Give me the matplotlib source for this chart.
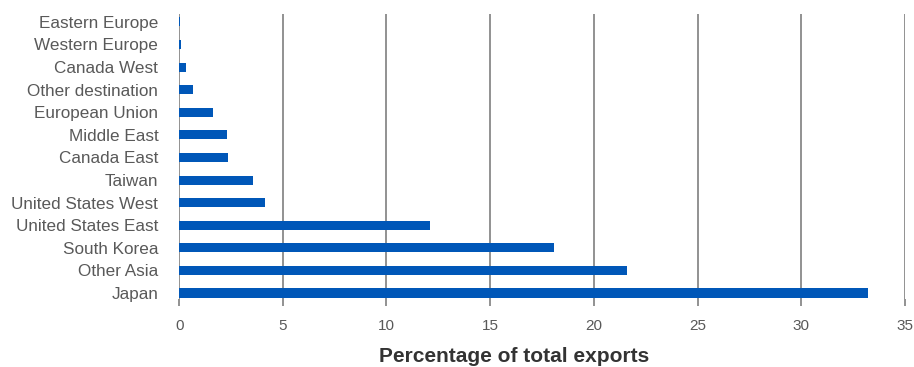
import matplotlib.pyplot as plt

plt.rcParams['font.family'] = ['Liberation Sans', 'DejaVu Sans']

destinations = ['Japan', 'Other Asia', 'South Korea', 'United States East',
                'United States West', 'Taiwan', 'Canada East', 'Middle East',
                'European Union', 'Other destination', 'Canada West',
                'Western Europe', 'Eastern Europe']
shares = [33.2, 21.6, 18.1, 12.1, 4.15, 3.57, 2.37, 2.33, 1.65, 0.68, 0.35, 0.07, 0.03]
xticks = [0, 5, 10, 15, 20, 25, 30, 35]

fig = plt.figure(figsize=(9.14, 3.67), dpi=100)
ax = fig.add_axes([0.196, 0.185, 0.794, 0.777])

ax.barh(range(len(destinations)), shares, height=0.4, color='#0057b8', zorder=3)

ax.set_xlim(0, 35)
ax.set_ylim(-0.27, 12.35)
ax.set_xticks(xticks)
ax.set_yticks(range(len(destinations)))
ax.set_yticklabels(destinations)

for s in ax.spines.values():
    s.set_visible(False)
ax.grid(axis='x', color='#7f7f7f', linewidth=1.2, zorder=1)
ax.tick_params(axis='y', length=0, pad=15, labelsize=12.3, labelcolor='#595959')
ax.tick_params(axis='x', length=5, width=1.2, color='#7f7f7f', pad=9,
               labelsize=11, labelcolor='#595959')

fig.text(514 / 914, 1 - 362 / 367, 'Percentage of total exports', ha='center',
         va='baseline', fontsize=15, fontweight='bold', color='#333333')

fig.savefig('out.png', dpi=100)
plt.close()
